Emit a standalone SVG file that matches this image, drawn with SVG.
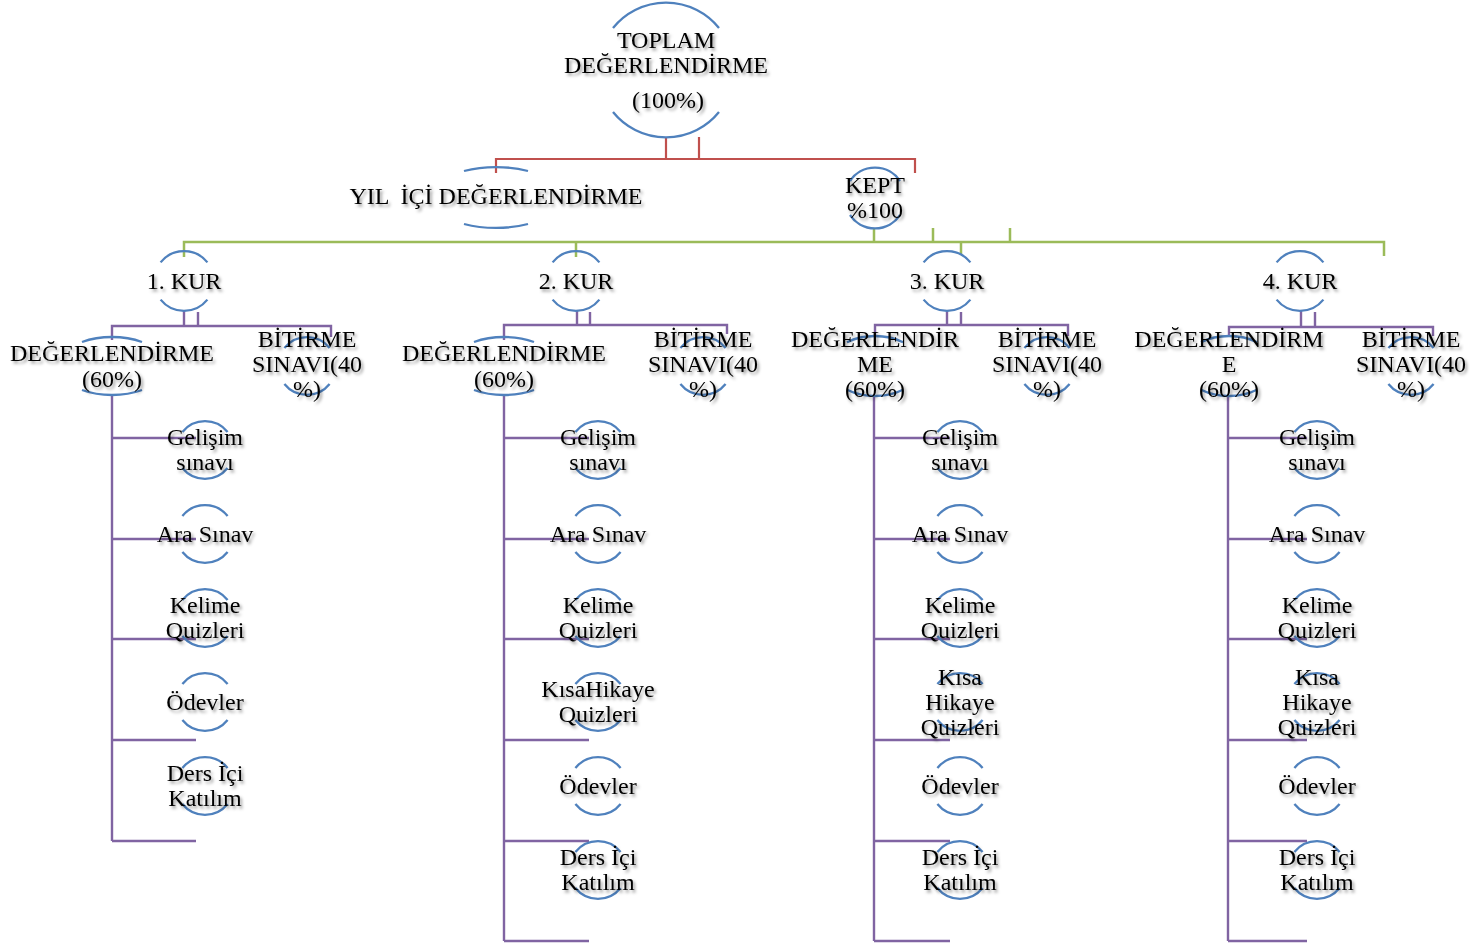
<svg xmlns="http://www.w3.org/2000/svg" width="1477" height="945" viewBox="0 0 1477 945">
<defs>
<filter id="sh" x="-20%" y="-30%" width="140%" height="180%">
<feDropShadow dx="2" dy="2.5" stdDeviation="1.6" flood-color="#000" flood-opacity="0.4"/>
</filter>
</defs>
<style>
text{font-family:"Liberation Serif","Times New Roman",serif;font-size:24px;fill:#000;text-anchor:middle;filter:url(#sh)}
.arc{fill:none;stroke:#4F81BD;stroke-width:2.3}
.red{fill:none;stroke:#C0504D;stroke-width:2.2}
.grn{fill:none;stroke:#9BBB59;stroke-width:2.5}
.pur{fill:none;stroke:#8064A2;stroke-width:2.4}
</style>
<rect width="1477" height="945" fill="#fff"/>

<g id="connectors">
<path class="red" d="M666 138V159M699 137V159M496 173V159H915V173"/>
<path class="grn" d="M184 257V242H1384V256M576 242V257M961 242V254M874 228V242M933 228V242M1010 228V242"/>
<path class="pur" d="M184 311V326M198 312V326M112 340V326H331V337M112 395V841M112 438H196M112 539H196M112 639H196M112 740H196M112 841H196"/>
<path class="pur" d="M577 311V325M590 312V325M504 340V325H727V334M504 395V941M504 438H589M504 539H589M504 639H589M504 740H589M504 841H589M504 941H589"/>
<path class="pur" d="M947 311V325M961 312V325M875 337V325H1068V336M874 397V941M874 438H950M874 539H950M874 639H950M874 740H950M874 841H950M874 941H950"/>
<path class="pur" d="M1301 311V327M1315 312V327M1229 337V327H1433V336M1228 397V941M1228 438H1307M1228 539H1307M1228 639H1307M1228 740H1307M1228 841H1307M1228 941H1307"/>
</g>

<g id="n-toplam">
<path class="arc" d="M613 28A68 68 0 0 1 719 28M613 112A68 68 0 0 0 719 112"/>
<text x="666" y="48">TOPLAM</text>
<text x="666" y="73">DEĞERLENDİRME</text>
<text x="668" y="108">(100%)</text>
</g>
<g id="n-yilici">
<path class="arc" d="M464 171A65 30.5 0 0 1 528 171M464 224A65 30.5 0 0 0 528 224"/>
<text x="496" y="204" xml:space="preserve">YIL  İÇİ DEĞERLENDİRME</text>
</g>
<g id="n-kept">
<path class="arc" d="M850 181A30 30 0 0 1 900 181M850 215A30 30 0 0 0 900 215"/>
<text x="875" y="193">KEPT</text>
<text x="875" y="218">%100</text>
</g>

<g id="n-kur1"><path class="arc" d="M160.6 262.4A30 30 0 0 1 207.4 262.4M160.6 299.6A30 30 0 0 0 207.4 299.6"/><text x="184" y="289">1. KUR</text></g>
<g id="n-kur2"><path class="arc" d="M552.6 262.4A30 30 0 0 1 599.4 262.4M552.6 299.6A30 30 0 0 0 599.4 299.6"/><text x="576" y="289">2. KUR</text></g>
<g id="n-kur3"><path class="arc" d="M923.6 262.4A30 30 0 0 1 970.4 262.4M923.6 299.6A30 30 0 0 0 970.4 299.6"/><text x="947" y="289">3. KUR</text></g>
<g id="n-kur4"><path class="arc" d="M1276.6 262.4A30 30 0 0 1 1323.4 262.4M1276.6 299.6A30 30 0 0 0 1323.4 299.6"/><text x="1300" y="289">4. KUR</text></g>

<g id="n-deg1"><path class="arc" d="M82 342A53.5 29 0 0 1 142 342M82 390A53.5 29 0 0 0 142 390"/><text x="112" y="361">DEĞERLENDİRME</text><text x="112" y="387">(60%)</text></g>
<g id="n-deg2"><path class="arc" d="M474 342A53.5 29 0 0 1 534 342M474 390A53.5 29 0 0 0 534 390"/><text x="504" y="361">DEĞERLENDİRME</text><text x="504" y="387">(60%)</text></g>
<g id="n-deg3"><path class="arc" d="M847 342.2A46 30 0 0 1 903 342.2M847 389.8A46 30 0 0 0 903 389.8"/><text x="875" y="347">DEĞERLENDİR</text><text x="875" y="372">ME</text><text x="875" y="397">(60%)</text></g>
<g id="n-deg4"><path class="arc" d="M1201 342.2A46 30 0 0 1 1257 342.2M1201 389.8A46 30 0 0 0 1257 389.8"/><text x="1229" y="347">DEĞERLENDİRM</text><text x="1229" y="372">E</text><text x="1229" y="397">(60%)</text></g>

<g id="n-bit1"><path class="arc" d="M284.4 348A29 29 0 0 1 329.6 348M284.4 384A29 29 0 0 0 329.6 384"/><text x="307" y="347">BİTİRME</text><text x="307" y="372">SINAVI(40</text><text x="307" y="397">%)</text></g>
<g id="n-bit2"><path class="arc" d="M680.4 348A29 29 0 0 1 725.6 348M680.4 384A29 29 0 0 0 725.6 384"/><text x="703" y="347">BİTİRME</text><text x="703" y="372">SINAVI(40</text><text x="703" y="397">%)</text></g>
<g id="n-bit3"><path class="arc" d="M1024.4 348A29 29 0 0 1 1069.6 348M1024.4 384A29 29 0 0 0 1069.6 384"/><text x="1047" y="347">BİTİRME</text><text x="1047" y="372">SINAVI(40</text><text x="1047" y="397">%)</text></g>
<g id="n-bit4"><path class="arc" d="M1388.4 348A29 29 0 0 1 1433.6 348M1388.4 384A29 29 0 0 0 1433.6 384"/><text x="1411" y="347">BİTİRME</text><text x="1411" y="372">SINAVI(40</text><text x="1411" y="397">%)</text></g>

<g id="k1-gelisim"><path class="arc" d="M182.4 432A29 29 0 0 1 227.6 432M182.4 468A29 29 0 0 0 227.6 468"/><text x="205" y="445">Gelişim</text><text x="205" y="470">sınavı</text></g>
<g id="k1-ara"><path class="arc" d="M182.4 516A29 29 0 0 1 227.6 516M182.4 552A29 29 0 0 0 227.6 552"/><text x="205" y="542">Ara Sınav</text></g>
<g id="k1-kelime"><path class="arc" d="M182.4 600A29 29 0 0 1 227.6 600M182.4 636A29 29 0 0 0 227.6 636"/><text x="205" y="613">Kelime</text><text x="205" y="638">Quizleri</text></g>
<g id="k1-odev"><path class="arc" d="M182.4 684A29 29 0 0 1 227.6 684M182.4 720A29 29 0 0 0 227.6 720"/><text x="205" y="710">Ödevler</text></g>
<g id="k1-ders"><path class="arc" d="M182.4 768A29 29 0 0 1 227.6 768M182.4 804A29 29 0 0 0 227.6 804"/><text x="205" y="781">Ders İçi</text><text x="205" y="806">Katılım</text></g>

<g id="k2-gelisim"><path class="arc" d="M575.4 432A29 29 0 0 1 620.6 432M575.4 468A29 29 0 0 0 620.6 468"/><text x="598" y="445">Gelişim</text><text x="598" y="470">sınavı</text></g>
<g id="k2-ara"><path class="arc" d="M575.4 516A29 29 0 0 1 620.6 516M575.4 552A29 29 0 0 0 620.6 552"/><text x="598" y="542">Ara Sınav</text></g>
<g id="k2-kelime"><path class="arc" d="M575.4 600A29 29 0 0 1 620.6 600M575.4 636A29 29 0 0 0 620.6 636"/><text x="598" y="613">Kelime</text><text x="598" y="638">Quizleri</text></g>
<g id="k2-hikaye"><path class="arc" d="M575.4 684A29 29 0 0 1 620.6 684M575.4 720A29 29 0 0 0 620.6 720"/><text x="598" y="697">KısaHikaye</text><text x="598" y="722">Quizleri</text></g>
<g id="k2-odev"><path class="arc" d="M575.4 768A29 29 0 0 1 620.6 768M575.4 804A29 29 0 0 0 620.6 804"/><text x="598" y="794">Ödevler</text></g>
<g id="k2-ders"><path class="arc" d="M575.4 852A29 29 0 0 1 620.6 852M575.4 888A29 29 0 0 0 620.6 888"/><text x="598" y="865">Ders İçi</text><text x="598" y="890">Katılım</text></g>

<g id="k3-gelisim"><path class="arc" d="M937.4 432A29 29 0 0 1 982.6 432M937.4 468A29 29 0 0 0 982.6 468"/><text x="960" y="445">Gelişim</text><text x="960" y="470">sınavı</text></g>
<g id="k3-ara"><path class="arc" d="M937.4 516A29 29 0 0 1 982.6 516M937.4 552A29 29 0 0 0 982.6 552"/><text x="960" y="542">Ara Sınav</text></g>
<g id="k3-kelime"><path class="arc" d="M937.4 600A29 29 0 0 1 982.6 600M937.4 636A29 29 0 0 0 982.6 636"/><text x="960" y="613">Kelime</text><text x="960" y="638">Quizleri</text></g>
<g id="k3-hikaye"><path class="arc" d="M937.4 684A29 29 0 0 1 982.6 684M937.4 720A29 29 0 0 0 982.6 720"/><text x="960" y="685">Kısa</text><text x="960" y="710">Hikaye</text><text x="960" y="735">Quizleri</text></g>
<g id="k3-odev"><path class="arc" d="M937.4 768A29 29 0 0 1 982.6 768M937.4 804A29 29 0 0 0 982.6 804"/><text x="960" y="794">Ödevler</text></g>
<g id="k3-ders"><path class="arc" d="M937.4 852A29 29 0 0 1 982.6 852M937.4 888A29 29 0 0 0 982.6 888"/><text x="960" y="865">Ders İçi</text><text x="960" y="890">Katılım</text></g>

<g id="k4-gelisim"><path class="arc" d="M1294.4 432A29 29 0 0 1 1339.6 432M1294.4 468A29 29 0 0 0 1339.6 468"/><text x="1317" y="445">Gelişim</text><text x="1317" y="470">sınavı</text></g>
<g id="k4-ara"><path class="arc" d="M1294.4 516A29 29 0 0 1 1339.6 516M1294.4 552A29 29 0 0 0 1339.6 552"/><text x="1317" y="542">Ara Sınav</text></g>
<g id="k4-kelime"><path class="arc" d="M1294.4 600A29 29 0 0 1 1339.6 600M1294.4 636A29 29 0 0 0 1339.6 636"/><text x="1317" y="613">Kelime</text><text x="1317" y="638">Quizleri</text></g>
<g id="k4-hikaye"><path class="arc" d="M1294.4 684A29 29 0 0 1 1339.6 684M1294.4 720A29 29 0 0 0 1339.6 720"/><text x="1317" y="685">Kısa</text><text x="1317" y="710">Hikaye</text><text x="1317" y="735">Quizleri</text></g>
<g id="k4-odev"><path class="arc" d="M1294.4 768A29 29 0 0 1 1339.6 768M1294.4 804A29 29 0 0 0 1339.6 804"/><text x="1317" y="794">Ödevler</text></g>
<g id="k4-ders"><path class="arc" d="M1294.4 852A29 29 0 0 1 1339.6 852M1294.4 888A29 29 0 0 0 1339.6 888"/><text x="1317" y="865">Ders İçi</text><text x="1317" y="890">Katılım</text></g>
</svg>
